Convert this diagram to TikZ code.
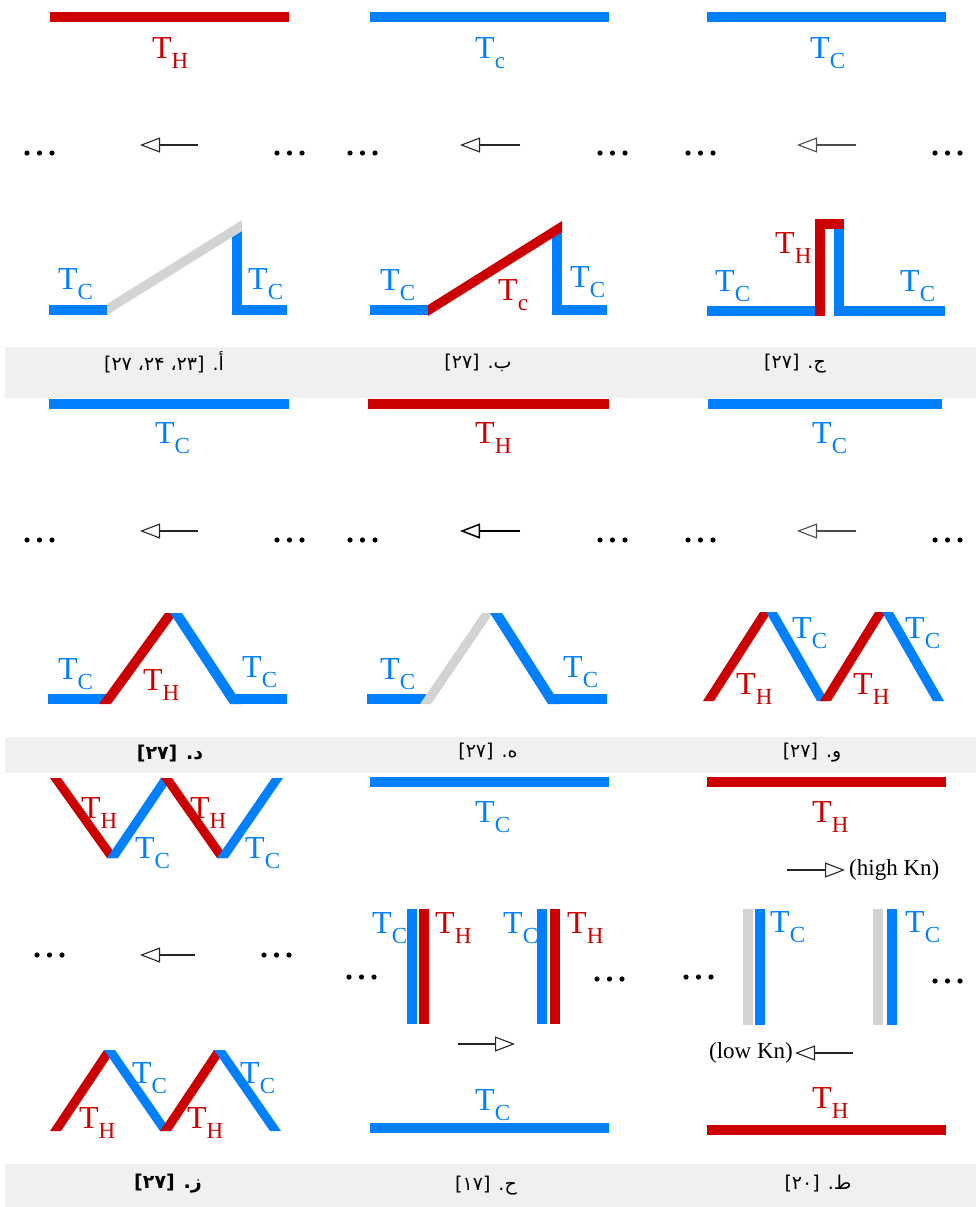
\documentclass[tikz,border=0pt]{standalone}
\usepackage{fontspec}
\setmainfont{Liberation Serif}
\newfontfamily\arabicfont[Script=Arabic]{DejaVu Sans}
\TeXXeTstate=1
\usetikzlibrary{arrows.meta}
\definecolor{hot}{RGB}{204,0,0}
\definecolor{cold}{RGB}{0,128,255}
\definecolor{mid}{RGB}{211,211,211}
\definecolor{bandc}{RGB}{240,240,240}
\newcommand{\tsub}[1]{{\fontsize{32}{32}\selectfont T}\raisebox{-10pt}{\fontsize{23}{23}\selectfont #1}}
\newcommand{\tridots}[2]{\foreach \k in {0,1,2}{\fill ({#1+12.5*\k},#2) circle (2.6pt);}}
\begin{document}
\begin{tikzpicture}[x=1pt,y=-1pt,
  wall/.style={line width=10pt,line cap=butt,line join=miter},
  flow/.style={line width=1.1pt,black!85,-{Triangle[open,length=20pt,width=15pt]}},
  lbl/.style={inner sep=0pt,anchor=base west},
  hotl/.style={lbl,text=hot},
  coldl/.style={lbl,text=cold},
  capt/.style={inner sep=0pt,font=\fontsize{19}{19}\selectfont},
  kn/.style={inner sep=0pt,font=\fontsize{23}{23}\selectfont}]
\useasboundingbox (0,0) rectangle (976,1207);
% bands
\fill[bandc] (5,347) rectangle (976,398);
\fill[bandc] (5,737) rectangle (976,773);
\fill[bandc] (5,1164) rectangle (976,1207);

% ================= ROW 1 =================
% panel a
\draw[wall,hot] (50,17) -- (289,17);
\node[hotl] (a1) at (152,59) {\tsub{H}};
\tridots{27}{153}\tridots{277}{153}
\coordinate (aS) at (198,145); \coordinate (aE) at (140,145);
\draw[flow] (aS) -- (aE);
\draw[wall,cold] (49,310) -- (108,310);
\draw[wall,cold] (237,228) -- (237,310) -- (287,310);
\fill[mid] (107,315) -- (242,231) -- (242,220) -- (107,304) -- cycle;
\node[coldl] (a2) at (58,289) {\tsub{C}};
\node[coldl] (a3) at (248,289) {\tsub{C}};
\node[capt] (ca) at (164,362) {\arabicfont\beginR أ. [۲۳، ۲۴، ۲۷]\endR};

% panel b
\draw[wall,cold] (370,17) -- (609,17);
\node[coldl] (b1) at (475,59) {\tsub{c}};
\tridots{350}{153}\tridots{600}{153}
\coordinate (bS) at (520,145); \coordinate (bE) at (460,145);
\draw[flow] (bS) -- (bE);
\draw[wall,cold] (370,310) -- (429,310);
\draw[wall,cold] (557,230) -- (557,310) -- (607,310);
\fill[hot] (428,316) -- (562,232) -- (562,221) -- (428,305) -- cycle;
\node[coldl] (b2) at (380,290) {\tsub{C}};
\node[hotl] (b3) at (498,300) {\tsub{c}};
\node[coldl] (b4) at (570,287) {\tsub{C}};
\node[capt] (cb) at (478,363) {\arabicfont\beginR ب. [۲۷]\endR};

% panel c
\draw[wall,cold] (707,17) -- (946,17);
\node[coldl] (c1) at (810,59) {\tsub{C}};
\tridots{688}{153}\tridots{935}{153}
\coordinate (cS) at (856,145); \coordinate (cE) at (797,145);
\draw[flow,black!70] (cS) -- (cE);
\draw[wall,cold] (707,311) -- (817,311);
\draw[wall,hot] (820,316) -- (820,224) -- (844,224);
\draw[wall,cold] (839,229) -- (839,311) -- (945,311);
\node[hotl] (c2) at (775,253) {\tsub{H}};
\node[coldl] (c3) at (715,291) {\tsub{C}};
\node[coldl] (c4) at (900,291) {\tsub{C}};
\node[capt] (cc) at (795,364) {\arabicfont\beginR ج. [۲۷]\endR};

% ================= ROW 2 =================
% panel d
\draw[wall,cold] (49,404) -- (289,404);
\node[coldl] (d1) at (155,443) {\tsub{C}};
\tridots{27}{540}\tridots{277}{540}
\coordinate (dS) at (198,531); \coordinate (dE) at (140,531);
\draw[flow] (dS) -- (dE);
\draw[wall,cold] (48,699) -- (108,699);
\fill[hot] (99,704) -- (111,704) -- (177,613) -- (165,613) -- cycle;
\fill[cold] (170,613) -- (182,613) -- (242,704) -- (230,704) -- cycle;
\draw[wall,cold] (234,699) -- (287,699);
\node[coldl] (d2) at (58,679) {\tsub{C}};
\node[hotl] (d3) at (143,690) {\tsub{H}};
\node[coldl] (d4) at (242,677) {\tsub{C}};
\node[capt] (cd) at (170,754) {\arabicfont\bfseries\beginR د. [۲۷]\endR};

% panel e
\draw[wall,hot] (368,404) -- (609,404);
\node[hotl] (e1) at (475,443) {\tsub{H}};
\tridots{350}{540}\tridots{600}{540}
\coordinate (eS) at (520,531); \coordinate (eE) at (460,531);
\draw[flow,line width=1.5pt,black] (eS) -- (eE);
\draw[wall,cold] (367,699) -- (426,699);
\fill[mid] (420,704) -- (431,704) -- (493,613) -- (482,613) -- cycle;
\fill[cold] (490,613) -- (502,613) -- (560,704) -- (548,704) -- cycle;
\draw[wall,cold] (552,699) -- (607,699);
\node[coldl] (e2) at (380,679) {\tsub{C}};
\node[coldl] (e3) at (563,677) {\tsub{C}};
\node[capt] (ce) at (488,752) {\arabicfont\beginR ه. [۲۷]\endR};

% panel f
\draw[wall,cold] (708,404) -- (942,404);
\node[coldl] (f1) at (812,443) {\tsub{C}};
\tridots{688}{540}\tridots{935}{540}
\coordinate (fS) at (856,531); \coordinate (fE) at (797,531);
\draw[flow,black!70] (fS) -- (fE);
\fill[hot] (703,701) -- (714,701) -- (771,612) -- (760,612) -- cycle;
\fill[cold] (766,612) -- (777,612) -- (828,701) -- (817,701) -- cycle;
\fill[hot] (820,701) -- (831,701) -- (886,612) -- (875,612) -- cycle;
\fill[cold] (882,612) -- (893,612) -- (944,701) -- (933,701) -- cycle;
\node[coldl] (f2) at (792,638) {\tsub{C}};
\node[hotl] (f3) at (736,694) {\tsub{H}};
\node[coldl] (f4) at (905,638) {\tsub{C}};
\node[hotl] (f5) at (853,694) {\tsub{H}};
\node[capt] (cf) at (812,753) {\arabicfont\beginR و. [۲۷]\endR};

% ================= ROW 3 =================
% panel g
\fill[hot] (50,778) -- (61,778) -- (118,858) -- (107,858) -- cycle;
\fill[cold] (107,858) -- (118,858) -- (172,778) -- (161,778) -- cycle;
\fill[hot] (161,778) -- (172,778) -- (228,858) -- (217,858) -- cycle;
\fill[cold] (217,858) -- (228,858) -- (283,778) -- (272,778) -- cycle;
\node[hotl] (g1) at (81,818) {\tsub{H}};
\node[coldl] (g2) at (135,858) {\tsub{C}};
\node[hotl] (g3) at (190,818) {\tsub{H}};
\node[coldl] (g4) at (245,858) {\tsub{C}};
\tridots{37}{955}\tridots{264}{955}
\coordinate (gS) at (195,955); \coordinate (gE) at (140,955);
\draw[flow] (gS) -- (gE);
\fill[hot] (50,1131) -- (61,1131) -- (115,1050) -- (104,1050) -- cycle;
\fill[cold] (104,1050) -- (115,1050) -- (171,1131) -- (160,1131) -- cycle;
\fill[hot] (160,1131) -- (171,1131) -- (225,1050) -- (214,1050) -- cycle;
\fill[cold] (214,1050) -- (225,1050) -- (281,1131) -- (270,1131) -- cycle;
\node[coldl] (g5) at (132,1083) {\tsub{C}};
\node[hotl] (g6) at (79,1128) {\tsub{H}};
\node[coldl] (g7) at (240,1083) {\tsub{C}};
\node[hotl] (g8) at (187,1128) {\tsub{H}};
\node[capt] (cg) at (168,1184) {\arabicfont\bfseries\beginR ز. [۲۷]\endR};

% panel h
\draw[wall,cold] (370,782) -- (609,782);
\node[coldl] (h1) at (475,822) {\tsub{C}};
\draw[wall,cold] (412,909) -- (412,1024);
\draw[wall,hot] (424,909) -- (424,1024);
\draw[wall,cold] (542,909) -- (542,1024);
\draw[wall,hot] (555,909) -- (555,1024);
\node[coldl] (h2) at (372,933) {\tsub{C}};
\node[hotl] (h3) at (435,933) {\tsub{H}};
\node[coldl] (h4) at (503,933) {\tsub{C}};
\node[hotl] (h5) at (567,933) {\tsub{H}};
\tridots{349}{977}\tridots{597}{979}
\coordinate (hS) at (458,1044); \coordinate (hE) at (515,1044);
\draw[flow] (hS) -- (hE);
\draw[wall,cold] (370,1128) -- (609,1128);
\node[coldl] (h6) at (475,1110) {\tsub{C}};
\node[capt] (ch) at (486,1186) {\arabicfont\beginR ح. [۱۷]\endR};

% panel i
\draw[wall,hot] (707,782) -- (946,782);
\node[hotl] (i1) at (812,822) {\tsub{H}};
\coordinate (iS) at (787,870); \coordinate (iE) at (845,870);
\draw[flow] (iS) -- (iE);
\node[kn,anchor=west] (hk) at (849,870) {(high Kn)};
\draw[wall,mid] (748,909) -- (748,1025);
\draw[wall,cold] (760,909) -- (760,1025);
\draw[wall,mid] (878,909) -- (878,1025);
\draw[wall,cold] (892,909) -- (892,1025);
\node[coldl] (i2) at (770,932) {\tsub{C}};
\node[coldl] (i3) at (905,932) {\tsub{C}};
\tridots{686}{977}\tridots{935}{981}
\coordinate (jS) at (853,1053); \coordinate (jE) at (795,1053);
\draw[flow] (jS) -- (jE);
\node[kn,anchor=east] (lk) at (793,1053) {(low Kn)};
\draw[wall,hot] (707,1130) -- (946,1130);
\node[hotl] (i4) at (812,1108) {\tsub{H}};
\node[capt] (ci) at (818,1184) {\arabicfont\beginR ط. [۲۰]\endR};
\end{tikzpicture}
\end{document}
